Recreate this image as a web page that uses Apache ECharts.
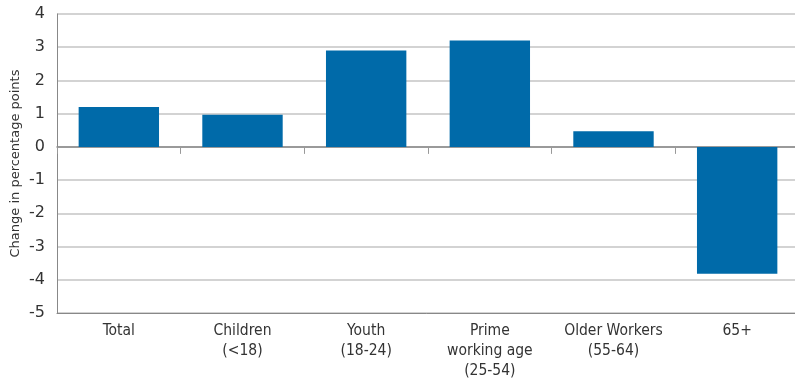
<!DOCTYPE html>
<html>
<head>
<meta charset="utf-8">
<script src="https://cdn.jsdelivr.net/npm/echarts@6/dist/echarts.min.js"></script>
<style>
  html, body { margin: 0; padding: 0; background: #fff; }
  #chart { width: 795px; height: 381px; }
</style>
</head>
<body>
<div id="chart"></div>
<script>
// categories and values
var categories = ['Total', 'Children\n(<18)', 'Youth\n(18-24)', 'Prime\nworking age\n(25-54)', 'Older Workers\n(55-64)', '65+'];
var changes = [1.2, 0.97, 2.9, 3.2, 0.47, -3.82];
var yTicks = { min: -5, max: 4, step: 1 };

const barColor = '#006aa9';
const narrowFont = "'Liberation Sans Narrow', 'DejaVu Sans Condensed', sans-serif";
const plainFont = "'DejaVu Sans', sans-serif";

var chart = echarts.init(document.getElementById('chart'));

var option = {
  animation: false,
  grid: {
    left: 57,
    top: 14,
    bottom: 68,
    width: 742,
    // plot runs a little past the right edge, as in the original
    outerBoundsMode: 'none'
  },
  xAxis: [
    {
      // axis on the zero line, ticks only
      type: 'category',
      data: categories,
      axisLine: { onZero: true, lineStyle: { color: '#888', width: 1.5 } },
      axisTick: { show: true, length: 7, lineStyle: { color: '#999' } },
      axisLabel: { show: false },
      splitLine: { show: false }
    },
    {
      // bottom axis carrying the labels
      type: 'category',
      data: categories,
      position: 'bottom',
      axisLine: { onZero: false, show: true, lineStyle: { color: '#888' } },
      axisTick: { show: false },
      axisLabel: {
        margin: 8,
        fontSize: 15.5,
        lineHeight: 20,
        color: '#333',
        fontFamily: narrowFont,
        interval: 0
      }
    }
  ],
  yAxis: {
    type: 'value',
    min: yTicks.min,
    max: yTicks.max,
    interval: yTicks.step,
    name: 'Change in percentage points',
    nameLocation: 'middle',
    nameGap: 35,
    nameMoveOverlap: false,
    nameTextStyle: { fontSize: 13, color: '#333', fontFamily: plainFont },
    axisLine: { show: true, lineStyle: { color: '#888' } },
    axisTick: { show: false },
    axisLabel: { fontSize: 16, color: '#333', margin: 12, fontFamily: plainFont },
    splitLine: { lineStyle: { color: '#c4c4c4', width: 1.5 } }
  },
  series: [
    {
      type: 'bar',
      data: changes,
      xAxisIndex: 0,
      barCategoryGap: '35%',
      itemStyle: { color: barColor }
    }
  ]
};

chart.setOption(option);
</script>
</body>
</html>
